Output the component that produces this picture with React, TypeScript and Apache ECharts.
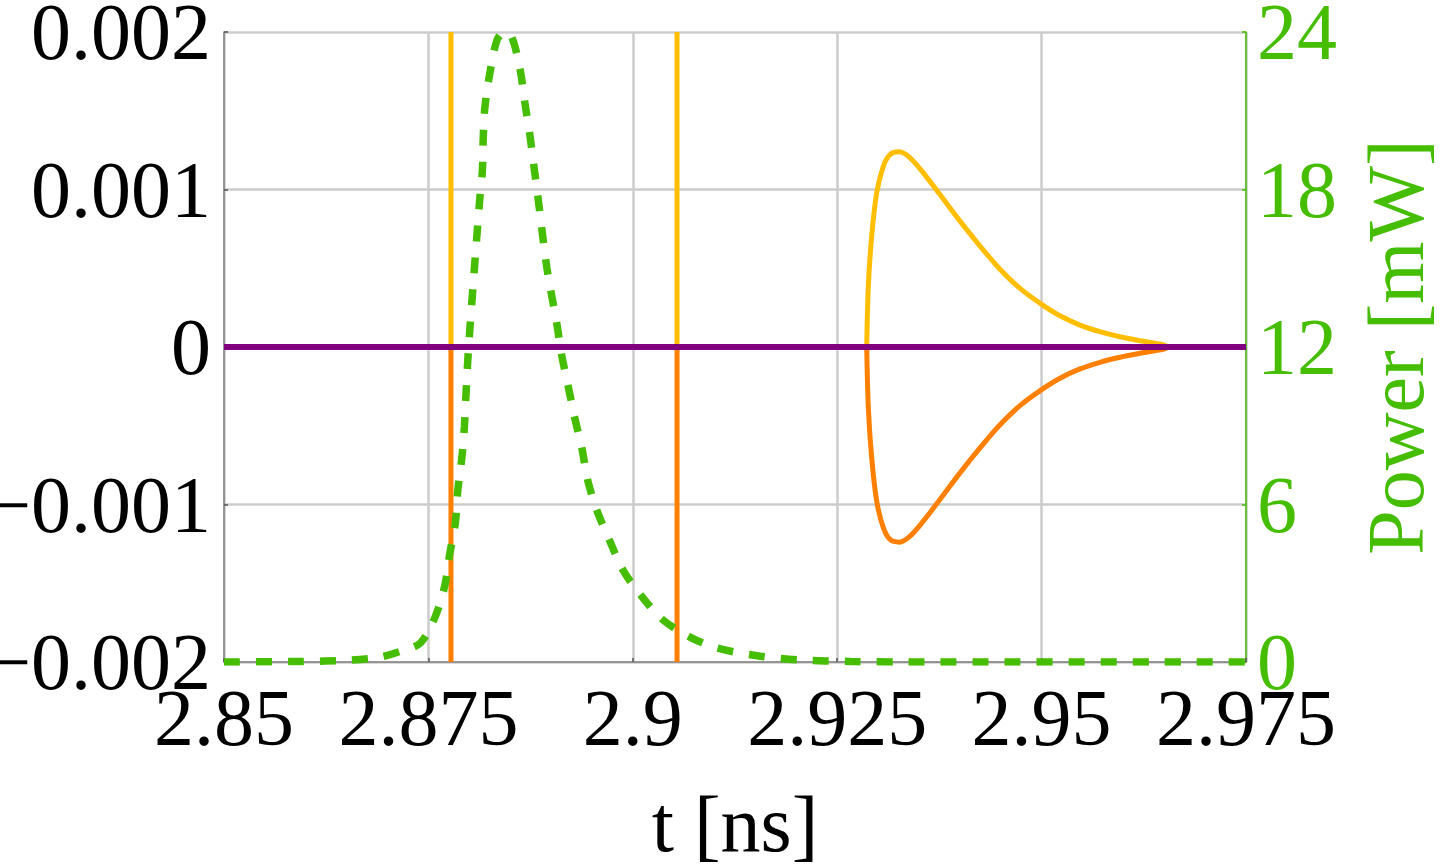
import React, { useEffect, useRef } from "react";
import * as echarts from "echarts";

// x axis ticks (ns)
const xTicks = [2.85, 2.875, 2.9, 2.925, 2.95, 2.975];

// Optical power pulse (green dashed, right axis, mW)
const powerT = [2.85, 2.8593, 2.8654, 2.8691, 2.8715, 2.874, 2.8758, 2.877, 2.8776, 2.8783, 2.8786, 2.8791, 2.8794, 2.8796, 2.8798, 2.8801, 2.8807, 2.8813, 2.8816, 2.8817, 2.8819, 2.8825, 2.8834, 2.8843, 2.8852, 2.8862, 2.8868, 2.8874, 2.8879, 2.8884, 2.8895, 2.8907, 2.8913, 2.8921, 2.8929, 2.8938, 2.8945, 2.8957, 2.8972, 2.8988, 2.9011, 2.9037, 2.907, 2.9103, 2.9156, 2.9205, 2.9266, 2.9327, 2.975];
const powerMW = [0, 0.02, 0.07, 0.19, 0.4, 0.72, 1.7, 2.9, 4.1, 5.3, 6.55, 7.8, 8.95, 10.2, 11.4, 12.8, 15.3, 17.7, 18.7, 19.9, 21.1, 22.4, 23.7, 24, 23.8, 22.6, 21.3, 20.1, 18.9, 17.7, 15.0, 12.9, 11.7, 10.5, 9.3, 8.1, 6.9, 5.7, 4.6, 3.5, 2.5, 1.6, 0.95, 0.53, 0.22, 0.08, 0.02, 0, 0];

// Singularities (vertical lines) of the field curves
const poleT = [2.87776, 2.90541];

// Transient lobe after the pulse
const lobeT = [2.92861, 2.92881, 2.92922, 2.92983, 2.93064, 2.93146, 2.9326, 2.93391, 2.93553, 2.93757, 2.94002, 2.94247, 2.94491, 2.94736, 2.95014, 2.95225, 2.9547, 2.95714, 2.95959, 2.96204, 2.96485, 2.9655];
const lobeUpper = [0, 0.000388, 0.000705, 0.000979, 0.001147, 0.001222, 0.001239, 0.001201, 0.001106, 0.000968, 0.000799, 0.000641, 0.000494, 0.000372, 0.000266, 0.000198, 0.000139, 0.000097, 0.000065, 0.00004, 0.000015, 0];
const lobeLower = [0, -0.000388, -0.000705, -0.000979, -0.001147, -0.001222, -0.001239, -0.001201, -0.001106, -0.000968, -0.000799, -0.000641, -0.000494, -0.000372, -0.000266, -0.000198, -0.000139, -0.000097, -0.000065, -0.00004, -0.000015, 0];

const X_MIN = 2.85;
const X_MAX = 2.975;
const Y_MIN = -0.002;
const Y_MAX = 0.002;

const FONT = "Liberation Serif";
const FS = 80;
const GREEN = "#45bd00";
const YELLOW = "#ffbf00";
const ORANGE = "#ff8000";
const PURPLE = "#800080";

function buildBranch(lobe: number[], edge: number): any[] {
  const d: any[] = [];
  d.push([X_MIN, 0], [poleT[0], 0], [poleT[0], edge]);
  d.push([poleT[0], null]);
  d.push([poleT[0], 0], [poleT[1], 0], [poleT[1], edge]);
  d.push([poleT[1], null]);
  d.push([poleT[1], 0], [lobeT[0], 0]);
  d.push([lobeT[0], null]);
  for (let i = 0; i < lobeT.length; i++) d.push([lobeT[i], lobe[i]]);
  d.push([lobeT[lobeT.length - 1], null]);
  d.push([lobeT[lobeT.length - 1], 0], [X_MAX, 0]);
  return d;
}

function fmtLeft(v: number): string {
  if (Math.abs(v) < 1e-9) return "0";
  return (v < 0 ? "\u2212" : "") + Math.abs(v).toFixed(3);
}

function fmtX(v: number): string {
  return String(parseFloat(v.toFixed(3)));
}

export default function App() {
  const ref = useRef<HTMLDivElement>(null);
  useEffect(() => {
    if (!ref.current) return;
    const chart = echarts.init(ref.current, undefined, { renderer: "svg" });
    const option: any = {
      animation: false,
      backgroundColor: "#ffffff",
      grid: { left: 224, right: 197, top: 32, bottom: 206, containLabel: false, outerBoundsMode: "none" },
      xAxis: {
        type: "value",
        min: X_MIN,
        max: X_MAX,
        interval: 0.025,
        name: "t [ns]",
        nameLocation: "middle",
        nameGap: 122,
        nameTextStyle: { fontFamily: FONT, fontSize: FS, color: "#000" },
        axisLine: { show: true, onZero: false, lineStyle: { color: "#808080", width: 1.5 } },
        axisTick: { show: true, inside: true, length: 4, lineStyle: { color: "#555", width: 1.5 } },
        axisLabel: { fontFamily: FONT, fontSize: FS, color: "#000", margin: 16, formatter: fmtX },
        splitLine: { show: true, lineStyle: { color: "#cccccc", width: 2.5 } },
      },
      yAxis: [
        {
          type: "value",
          min: Y_MIN,
          max: Y_MAX,
          interval: 0.001,
          position: "left",
          axisLine: { show: true, onZero: false, lineStyle: { color: "#808080", width: 1.5 } },
          axisTick: { show: true, inside: true, length: 4, lineStyle: { color: "#555", width: 1.5 } },
          axisLabel: { fontFamily: FONT, fontSize: FS, color: "#000", margin: 13, formatter: fmtLeft },
          splitLine: { show: true, lineStyle: { color: "#cccccc", width: 2.5 } },
        },
        {
          type: "value",
          min: 0,
          max: 24,
          interval: 6,
          position: "right",
          name: "Power [mW]",
          nameLocation: "middle",
          nameRotate: 90,
          nameGap: 110,
          nameTextStyle: { fontFamily: FONT, fontSize: FS, color: GREEN },
          axisLine: { show: true, onZero: false, lineStyle: { color: GREEN, width: 1.5 } },
          axisTick: { show: true, inside: true, length: 4, lineStyle: { color: GREEN, width: 1.5 } },
          axisLabel: { fontFamily: FONT, fontSize: FS, color: GREEN, margin: 11 },
          splitLine: { show: false },
        },
      ],
      series: [
        {
          name: "upper",
          type: "line",
          yAxisIndex: 0,
          data: buildBranch(lobeUpper, Y_MAX),
          showSymbol: false,
          symbol: "none",
          connectNulls: false,
          smooth: 0.3,
          lineStyle: { color: YELLOW, width: 5 },
          z: 2,
        },
        {
          name: "lower",
          type: "line",
          yAxisIndex: 0,
          data: buildBranch(lobeLower, Y_MIN),
          showSymbol: false,
          symbol: "none",
          connectNulls: false,
          smooth: 0.3,
          lineStyle: { color: ORANGE, width: 5 },
          z: 2,
        },
        {
          name: "zero",
          type: "line",
          yAxisIndex: 0,
          data: [[X_MIN, 0], [X_MAX, 0]],
          showSymbol: false,
          symbol: "none",
          lineStyle: { color: PURPLE, width: 6 },
          z: 3,
        },
        {
          name: "power",
          type: "line",
          yAxisIndex: 1,
          data: powerT.map((t, i) => [t, powerMW[i]]),
          showSymbol: false,
          symbol: "none",
          smooth: 0.3,
          lineStyle: { color: GREEN, width: 7.5, type: [16, 16], cap: "butt" },
          z: 4,
        },
      ],
    };
    chart.setOption(option);
    return () => chart.dispose();
  }, []);
  return (
    <div
      ref={ref}
      style={{ position: "fixed", left: 0, top: 0, width: 1443, height: 868, background: "#fff" }}
    />
  );
}
